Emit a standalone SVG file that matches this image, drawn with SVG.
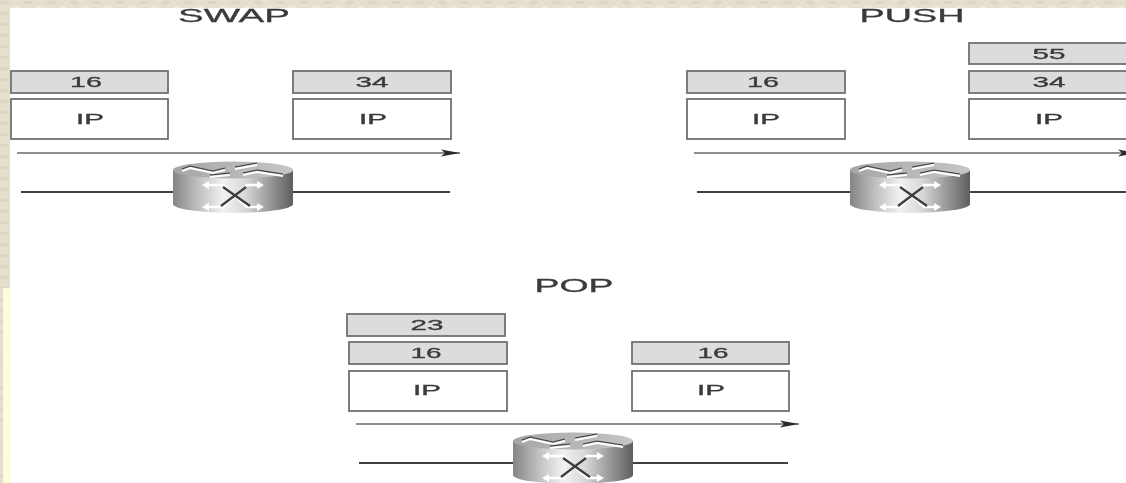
<svg xmlns="http://www.w3.org/2000/svg" width="1126" height="483" viewBox="0 0 1126 483">
<style>
.lb{fill:#dcdcdc;stroke:#707070;stroke-width:1.8}
.ip{fill:#fff;stroke:#707070;stroke-width:1.8}
text{font-family:"Liberation Sans",Arial,sans-serif;fill:#3a3a3a;stroke:#3a3a3a;stroke-width:.3;text-anchor:middle}
.t{font-size:19px}
.s{font-size:14.500px}
.arr{stroke:#6a6a6a;stroke-width:1.6;fill:none;marker-end:url(#ah)}
.wire{stroke:#404040;stroke-width:1.800;fill:none}
.gl{stroke:#fff;fill:none}
.gd{stroke:#3c3c3c;fill:none}
</style>
<defs>
<filter id="soft" filterUnits="userSpaceOnUse" x="0" y="0" width="1126" height="483"><feGaussianBlur stdDeviation="0.55"/></filter>
<marker id="ah" markerUnits="userSpaceOnUse" markerWidth="20" markerHeight="10" refX="19" refY="5" orient="auto"><path d="M0 1.500L19 5L0 8.500L4 5Z" fill="#2c2c2c"/></marker>
<linearGradient id="body" x1="0" x2="1" y1="0" y2="0"><stop offset="0" stop-color="#858585"/><stop offset=".2" stop-color="#bdbdbd"/><stop offset=".42" stop-color="#f2f2f2"/><stop offset=".6" stop-color="#d8d8d8"/><stop offset="1" stop-color="#5e5e5e"/></linearGradient>
<linearGradient id="top" x1="0" x2="1" y1="0" y2="0"><stop offset="0" stop-color="#a6a6a6"/><stop offset="1" stop-color="#c6c6c6"/></linearGradient>
<pattern id="tex" width="23" height="11" patternUnits="userSpaceOnUse"><rect width="23" height="11" fill="#e6dfcf"/><rect x="1" y="1" width="8" height="3" fill="#ddd5c2"/><rect x="13" y="6" width="7" height="3" fill="#eee8da"/></pattern>
<g id="router">
<path d="M-60 -20V14A60 9 0 0 0 60 14V-20Z" fill="url(#body)"/>
<ellipse cx="0" cy="-20" rx="60" ry="8.500" fill="url(#top)"/>
<path class="gl" stroke-width="2" d="M-51 -19L-43 -22L-20 -17L-8 -20M-23 -13L-3 -15M2 -21L24 -25M10 -15L24 -18L50 -14"/>
<path class="gd" stroke-width="1.200" d="M-51 -21L-43 -24L-20 -19L-8 -22M-23 -15L-3 -17M2 -23L24 -27M10 -17L24 -20L50 -16"/>
<path class="gl" stroke-width="2.500" d="M-26 -5H-10L14 17H24M-26 17H-10L14 -5H24"/>
<path d="M24 -9L31 -5L24 -1ZM24 13L31 17L24 21ZM-24 -9L-31 -5L-24 -1ZM-24 13L-31 17L-24 21Z" fill="#fff"/>
<path class="gd" stroke-width="2.200" d="M-12 16L13 -3M-10 -3L17 16"/>
</g>
</defs>
<rect id="backdrop" width="1126" height="483" fill="url(#tex)"/>
<rect id="sheet" x="10" y="8" width="1116" height="475" fill="#fff"/>
<rect id="strip" x="3" y="288" width="7" height="195" fill="#fdfcd6"/>
<g id="diagram" filter="url(#soft)">
<g id="connectors">
<line class="wire" x1="21" y1="192" x2="175" y2="192"/><line class="wire" x1="292" y1="192" x2="450" y2="192"/>
<line class="wire" x1="697" y1="192" x2="852" y2="192"/><line class="wire" x1="970" y1="192" x2="1126" y2="192"/>
<line class="wire" x1="359" y1="463" x2="515" y2="463"/><line class="wire" x1="632" y1="463" x2="788" y2="463"/>
<line class="arr" x1="17" y1="153" x2="460" y2="153"/>
<line class="arr" x1="694" y1="153" x2="1137" y2="153"/>
<line class="arr" x1="356" y1="424" x2="799" y2="424"/>
</g>
<g id="swap">
<text class="t" x="234" y="22" textLength="112" lengthAdjust="spacingAndGlyphs">SWAP</text>
<rect class="lb" x="11" y="71" width="157" height="22"/><text class="s" x="86" y="87" textLength="32" lengthAdjust="spacingAndGlyphs">16</text>
<rect class="ip" x="11" y="99" width="157" height="40"/><text class="s" x="90" y="124" textLength="28" lengthAdjust="spacingAndGlyphs">IP</text>
<rect class="lb" x="293" y="71" width="158" height="22"/><text class="s" x="372" y="87" textLength="33" lengthAdjust="spacingAndGlyphs">34</text>
<rect class="ip" x="293" y="99" width="158" height="40"/><text class="s" x="373" y="124" textLength="28" lengthAdjust="spacingAndGlyphs">IP</text>
</g>
<use id="router-swap" href="#router" x="233" y="190"/>
<g id="push">
<text class="t" x="912" y="22" textLength="105" lengthAdjust="spacingAndGlyphs">PUSH</text>
<rect class="lb" x="687" y="71" width="158" height="22"/><text class="s" x="763" y="87" textLength="32" lengthAdjust="spacingAndGlyphs">16</text>
<rect class="ip" x="687" y="99" width="158" height="40"/><text class="s" x="766" y="124" textLength="28" lengthAdjust="spacingAndGlyphs">IP</text>
<rect class="lb" x="969" y="43" width="160" height="21"/><text class="s" x="1049" y="59" textLength="33" lengthAdjust="spacingAndGlyphs">55</text>
<rect class="lb" x="969" y="71" width="160" height="22"/><text class="s" x="1049" y="87" textLength="33" lengthAdjust="spacingAndGlyphs">34</text>
<rect class="ip" x="969" y="99" width="160" height="40"/><text class="s" x="1049" y="124" textLength="28" lengthAdjust="spacingAndGlyphs">IP</text>
</g>
<use id="router-push" href="#router" x="910" y="190"/>
<g id="pop">
<text x="574" y="292" style="font-size:17.500px" textLength="79" lengthAdjust="spacingAndGlyphs">POP</text>
<rect class="lb" x="347" y="314" width="158" height="22"/><text class="s" x="427" y="330" textLength="33" lengthAdjust="spacingAndGlyphs">23</text>
<rect class="lb" x="349" y="342" width="158" height="22"/><text class="s" x="426" y="358" textLength="31" lengthAdjust="spacingAndGlyphs">16</text>
<rect class="ip" x="349" y="371" width="158" height="40"/><text class="s" x="427" y="395" textLength="28" lengthAdjust="spacingAndGlyphs">IP</text>
<rect class="lb" x="632" y="342" width="157" height="22"/><text class="s" x="713" y="358" textLength="31" lengthAdjust="spacingAndGlyphs">16</text>
<rect class="ip" x="632" y="371" width="157" height="40"/><text class="s" x="711" y="395" textLength="28" lengthAdjust="spacingAndGlyphs">IP</text>
</g>
<use id="router-pop" href="#router" x="573" y="461"/>
</g>
<rect id="top-band" width="1126" height="8" fill="url(#tex)"/>
</svg>
